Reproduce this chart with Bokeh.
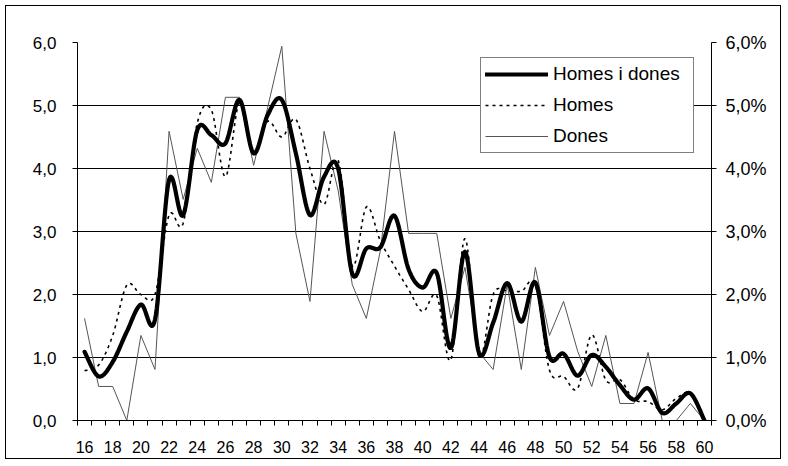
import numpy as np
from bokeh.plotting import figure
from bokeh.models import Range1d, FixedTicker, LinearAxis, Legend, LegendItem
from bokeh.embed import file_html
from bokeh.resources import INLINE

# ---- data -------------------------------------------------------------
ages = list(range(16, 61))
homes_i_dones = [1.09, 0.70, 0.93, 1.41, 1.84, 1.60, 3.82, 3.26, 4.61, 4.53,
                 4.40, 5.09, 4.24, 4.85, 5.09, 4.24, 3.26, 3.87, 4.00, 2.33,
                 2.73, 2.75, 3.25, 2.40, 2.11, 2.34, 1.15, 2.68, 1.07, 1.55,
                 2.18, 1.57, 2.19, 1.01, 1.06, 0.71, 1.04, 0.85, 0.56, 0.33,
                 0.51, 0.12, 0.27, 0.43, 0.00]
homes = [0.79, 0.88, 1.35, 2.15, 2.00, 2.00, 3.26, 3.13, 4.72, 4.93,
         3.87, 5.05, 4.25, 4.75, 4.50, 4.78, 4.00, 3.43, 4.13, 2.45,
         3.39, 2.85, 2.45, 2.08, 1.73, 1.98, 0.96, 2.89, 1.00, 2.00,
         2.06, 2.05, 2.15, 0.80, 0.70, 0.51, 1.36, 0.64, 0.65, 0.33,
         0.30, 0.17, 0.35, 0.43, 0.00]
dones = [1.62, 0.54, 0.54, 0.00, 1.35, 0.81, 4.59, 3.51, 4.32, 3.78,
         5.13, 5.13, 4.05, 4.97, 5.94, 2.97, 1.89, 4.59, 3.65, 2.16,
         1.62, 2.70, 4.59, 2.97, 2.97, 2.97, 1.62, 2.43, 1.08, 0.81,
         2.16, 0.81, 2.43, 1.35, 1.89, 1.10, 0.54, 1.35, 0.27, 0.27,
         1.08, 0.00, 0.00, 0.27, 0.00]
series_names = ["Homes i dones", "Homes", "Dones"]
x_tick_values = list(range(16, 61, 2))
x_tick_labels = [str(v) for v in x_tick_values]
y_tick_values = [0, 1, 2, 3, 4, 5, 6]
left_tick_labels = ["0,0", "1,0", "2,0", "3,0", "4,0", "5,0", "6,0"]
right_tick_labels = ["0,0%", "1,0%", "2,0%", "3,0%", "4,0%", "5,0%", "6,0%"]


def smooth(xs, ys, n=16):
    """Excel-like smoothed line (Catmull-Rom as cubic Bezier)."""
    x = np.asarray(xs, float)
    y = np.asarray(ys, float)
    xp = np.concatenate([[x[0]], x, [x[-1]]])
    yp = np.concatenate([[y[0]], y, [y[-1]]])
    t = np.linspace(0, 1, n, endpoint=False)
    ox, oy = [], []
    for i in range(len(x) - 1):
        p0 = np.array([xp[i], yp[i]])
        p1 = np.array([xp[i + 1], yp[i + 1]])
        p2 = np.array([xp[i + 2], yp[i + 2]])
        p3 = np.array([xp[i + 3], yp[i + 3]])
        b1 = p1 + (p2 - p0) / 6.0
        b2 = p2 - (p3 - p1) / 6.0
        for tt in t:
            m = 1 - tt
            pt = m**3 * p1 + 3 * m * m * tt * b1 + 3 * m * tt * tt * b2 + tt**3 * p2
            ox.append(pt[0])
            oy.append(pt[1])
    ox.append(x[-1])
    oy.append(y[-1])
    return ox, oy


FONT = "Liberation Sans"

p = figure(width=776, height=454, x_range=Range1d(15.5, 60.5), y_range=Range1d(0, 6),
           output_backend="svg", toolbar_location=None,
           min_border_left=71, min_border_right=71, min_border_top=36, min_border_bottom=40)
p.styles = {"border": "1px solid black", "margin-left": "5px", "margin-top": "5px"}
p.outline_line_color = None
p.background_fill_color = "white"
p.border_fill_color = "white"

# x axis: labels every 2 years, tick marks at category boundaries
p.xaxis.ticker = FixedTicker(ticks=x_tick_values,
                             minor_ticks=[a - 0.5 for a in ages] + [ages[-1] + 0.5])
p.xaxis.major_label_overrides = dict(zip(x_tick_values, x_tick_labels))
p.xaxis.major_tick_line_color = None
p.xaxis.minor_tick_line_color = "black"
p.xaxis.minor_tick_in = 0
p.xaxis.minor_tick_out = 5
p.xaxis.axis_line_color = "black"
p.xaxis.major_label_text_font = FONT
p.xaxis.major_label_text_font_size = "16px"
p.xaxis.major_label_text_color = "black"
p.xaxis.major_label_standoff = 14
p.xgrid.visible = False

# left axis
p.yaxis.ticker = FixedTicker(ticks=y_tick_values)
p.yaxis.major_label_overrides = dict(zip(y_tick_values, left_tick_labels))
p.yaxis.major_tick_in = 0
p.yaxis.major_tick_out = 5
p.yaxis.minor_tick_line_color = None
p.yaxis.axis_line_color = "black"
p.yaxis.major_tick_line_color = "black"
p.yaxis.major_label_text_font = FONT
p.yaxis.major_label_text_font_size = "17px"
p.yaxis.major_label_text_color = "black"
p.yaxis.major_label_standoff = 16
p.ygrid.grid_line_color = "black"
p.ygrid.grid_line_width = 1

# right axis (percent)
ra = LinearAxis(ticker=FixedTicker(ticks=y_tick_values),
                major_label_overrides=dict(zip(y_tick_values, right_tick_labels)),
                major_tick_in=0, major_tick_out=5, minor_tick_line_color=None,
                axis_line_color="black", major_tick_line_color="black",
                major_label_text_font=FONT, major_label_text_font_size="18px",
                major_label_text_color="black", major_label_standoff=9)
p.add_layout(ra, "right")

# series
r_d = p.line(ages, dones, line_color="#555555", line_width=1)
hx, hy = smooth(ages, homes)
r_h = p.line(hx, hy, line_color="black", line_width=1.6, line_dash="3 4")
tx, ty = smooth(ages, homes_i_dones)
r_t = p.line(tx, ty, line_color="black", line_width=4.2, line_join="round", line_cap="round")

legend = Legend(items=[LegendItem(label=series_names[0], renderers=[r_t]),
                       LegendItem(label=series_names[1], renderers=[r_h]),
                       LegendItem(label=series_names[2], renderers=[r_d])],
                location=(403, 267), margin=0, padding=4, spacing=7,
                glyph_width=63, glyph_height=24, label_height=24, label_width=136,
                label_standoff=5, label_text_font=FONT, label_text_font_size="19px",
                label_text_color="black", border_line_color="black", border_line_width=1,
                background_fill_color="white", background_fill_alpha=1.0)
p.add_layout(legend)

open("out.html", "w").write(file_html(p, INLINE))
